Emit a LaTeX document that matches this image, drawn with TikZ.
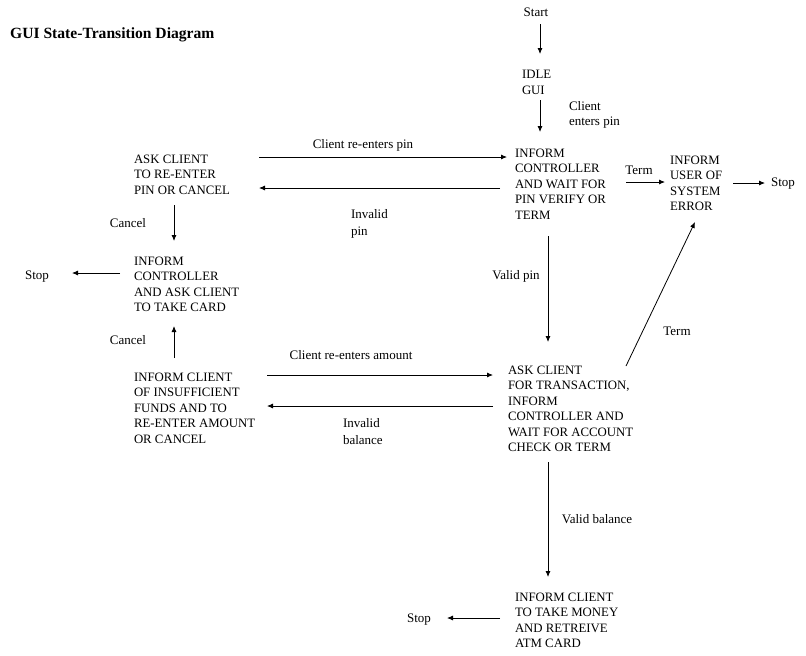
\documentclass[tikz,border=0pt]{standalone}
\usepackage{fontspec}
\setmainfont{Liberation Serif}
\usetikzlibrary{arrows.meta}
\begin{document}
\begin{tikzpicture}[x=1pt,y=-1pt,
  state/.style={anchor=north west,align=left,inner sep=0pt,outer sep=0pt,font=\fontsize{12.8}{15.4}\selectfont},
  lbl/.style={inner sep=0pt,outer sep=0pt,font=\fontsize{13}{16}\selectfont},
  arr/.style={draw=drawColor,line width=0.8pt,-{Latex[length=6pt,width=5pt]}}]
\definecolor{drawColor}{RGB}{0,0,0}
\definecolor{fillColor}{RGB}{255,255,255}
\path[use as bounding box,fill=fillColor] (0,0) rectangle (806,656);

% title
\node[anchor=west,inner sep=0pt,font=\fontsize{15.6}{17}\selectfont\bfseries] (title) at (10,35) {GUI State-Transition Diagram};

% states
\node[lbl] (start) at (536,12) {Start};
\node[state,font=\fontsize{12.8}{16}\selectfont] (idle) at (522,70) {IDLE\\GUI};
\node[state] (pin) at (515,149) {INFORM\\CONTROLLER\\AND WAIT FOR\\PIN VERIFY OR\\TERM};
\node[state] (err) at (670,156) {INFORM\\USER OF\\SYSTEM\\ERROR};
\node[state] (ask) at (134,155) {ASK CLIENT\\TO RE-ENTER\\PIN OR CANCEL};
\node[state] (card) at (134,257) {INFORM\\CONTROLLER\\AND ASK CLIENT\\TO TAKE CARD};
\node[state] (funds) at (134,373) {INFORM CLIENT\\OF INSUFFICIENT\\FUNDS AND TO\\RE-ENTER AMOUNT\\OR CANCEL};
\node[state] (trans) at (508,366) {ASK CLIENT\\FOR TRANSACTION,\\INFORM\\CONTROLLER AND\\WAIT FOR ACCOUNT\\CHECK OR TERM};
\node[state] (money) at (515,593) {INFORM CLIENT\\TO TAKE MONEY\\AND RETREIVE\\ATM CARD};
\node[lbl] (stopE) at (783,184) {Stop};
\node[lbl] (stopW) at (37,277) {Stop};
\node[lbl] (stopS) at (419,620) {Stop};

% transitions
\path[arr] ([shift={(4,12)}]start.center) -- ([shift={(18,-16)}]idle.north west);
\path[arr] ([shift={(18,30)}]idle.north west) -- ([shift={(25,-17)}]pin.north west);
\path[arr] ([shift={(111,33)}]pin.north west) -- ([shift={(-5,26)}]err.north west);
\path[arr] ([shift={(63,27)}]err.north west) -- ([shift={(-18,-1)}]stopE.center);
\path[arr] ([shift={(125,2)}]ask.north west) -- ([shift={(-8,8)}]pin.north west);
\path[arr] ([shift={(-15,39)}]pin.north west) -- ([shift={(125,33)}]ask.north west);
\path[arr] ([shift={(40,50)}]ask.north west) -- ([shift={(40,-16)}]card.north west);
\path[arr] ([shift={(-14,16)}]card.north west) -- ([shift={(35,-4)}]stopW.center);
\path[arr] ([shift={(40,-15)}]funds.north west) -- ([shift={(40,69)}]card.north west);
\path[arr] ([shift={(133,2)}]funds.north west) -- ([shift={(-15,9)}]trans.north west);
\path[arr] ([shift={(-15,40)}]trans.north west) -- ([shift={(133,33)}]funds.north west);
\path[arr] ([shift={(33,87)}]pin.north west) -- ([shift={(40,-24)}]trans.north west);
\path[arr] ([shift={(118,0)}]trans.north west) -- ([shift={(25,66)}]err.north west);
\path[arr] ([shift={(40,96)}]trans.north west) -- ([shift={(33,-16)}]money.north west);
\path[arr] ([shift={(-15,25)}]money.north west) -- ([shift={(28,-2)}]stopS.center);

% transition labels
\node[lbl,anchor=north west,align=left,font=\fontsize{13}{15}\selectfont] (lEnters) at (569,101) {Client\\enters pin};
\node[lbl] (lTerm) at (639,170) {Term};
\node[lbl] (lRePin) at (363,145) {Client re-enters pin};
\node[lbl,anchor=north west,align=left,font=\fontsize{13}{17}\selectfont] (lInvPin) at (351,209) {Invalid\\pin};
\node[lbl] (lCancelA) at (128,223) {Cancel};
\node[lbl] (lCancelB) at (128,340) {Cancel};
\node[lbl] (lValidPin) at (516,276) {Valid pin};
\node[lbl] (lTermB) at (677,331) {Term};
\node[lbl] (lReAmt) at (351,355) {Client re-enters amount};
\node[lbl,anchor=north west,align=left,font=\fontsize{13}{17}\selectfont] (lInvBal) at (343,418) {Invalid\\balance};
\node[lbl] (lValidBal) at (597,519) {Valid balance};
\end{tikzpicture}
\end{document}
